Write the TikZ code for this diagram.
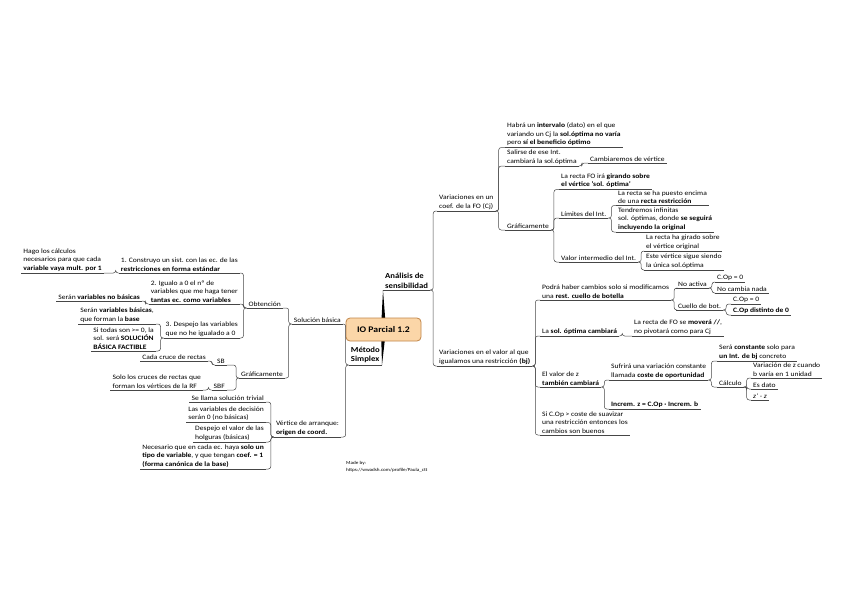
\documentclass[tikz,border=0pt]{standalone}
\usepackage{fontspec}
\setmainfont{Carlito}[FakeStretch = 1.13]
\usetikzlibrary{backgrounds}

\definecolor{rootfill}{RGB}{251,214,168}
\definecolor{rootdraw}{RGB}{192,132,72}
\definecolor{linegray}{RGB}{70,70,70}

\tikzset{
    uline/.style = {draw = linegray, line width = 0.5pt},
    topic/.style = {inner xsep = 2pt, inner ysep = 1.6pt, align = left,
        append after command = {(\tikzlastnode.south west) edge [uline] (\tikzlastnode.south east)}},
    rtopic/.style = {topic, anchor = south west},
    ltopic/.style = {topic, anchor = south east},
    rbranch/.style = {to path = {-- ++(3,0) |- (\tikztotarget)}},
    lbranch/.style = {to path = {-- ++(-3,0) |- (\tikztotarget)}}
}

\begin{document}
\begin{tikzpicture}[
        x = 1pt, y = -1pt,
        every node/.style = {font = \fontsize{6.7}{8.4}\selectfont},
        main/.style = {topic, font = \fontsize{7.7}{9.2}\selectfont\bfseries},
        branch/.style = {uline, rounded corners = 2.5pt}
    ]

    \useasboundingbox (0,0) rectangle (848,599);

    \node[draw = rootdraw, fill = rootfill, rounded corners = 4pt, line width = 0.8pt,
          minimum width = 75pt, minimum height = 23pt,
          font = \fontsize{8.6}{10}\selectfont\bfseries] (root) at (383.5,329.5) {IO Parcial 1.2};

    \node[main, anchor = south west] (ana) at (383,290) {Análisis de\\sensibilidad};
    \node[main, anchor = south east] (met) at (382,365) {Método\\Simplex};

    \begin{scope}[on background layer]
        \fill ([xshift = -2.5pt]root.center) -- (ana.south west) -- ([xshift = 2.5pt]root.center) -- cycle;
        \fill ([xshift = -2.5pt]root.center) -- (met.south east) -- ([xshift = 2.5pt]root.center) -- cycle;
    \end{scope}

    % right: coeficientes de la FO
    \node[rtopic] (cj)    at (437,211) {Variaciones en un\\coef. de la FO (Cj)};
    \node[rtopic] (hab)   at (505,147.5) {Habrá un \textbf{intervalo} (dato) en el que\\variando un Cj la \textbf{sol.óptima no varía}\\pero \textbf{sí el beneficio óptimo}};
    \node[rtopic] (sal)   at (505,166) {Salirse de ese Int.\\cambiará la sol.óptima};
    \node[rtopic] (camb)  at (588,163) {Cambiaremos de vértice};
    \node[rtopic] (gra)   at (505,230) {Gráficamente};
    \node[rtopic] (giro)  at (559,189.5) {La recta FO irá \textbf{girando sobre}\\\textbf{el vértice 'sol. óptima'}};
    \node[rtopic] (lim)   at (559,218) {Límites del Int.};
    \node[rtopic] (enc)   at (616,205.5) {La recta se ha puesto encima\\de una \textbf{recta restricción}};
    \node[rtopic] (inf)   at (616,232) {Tendremos infinitas\\sol. óptimas, donde \textbf{se seguirá}\\\textbf{incluyendo la original}};
    \node[rtopic] (val)   at (559,262) {Valor intermedio del Int.};
    \node[rtopic] (gir2)  at (644,251) {La recta ha girado sobre\\el vértice original};
    \node[rtopic] (uni)   at (644,270) {Este vértice sigue siendo\\la única sol.óptima};

    % right: recursos (bj)
    \node[rtopic] (bj)    at (437,366) {Variaciones en el valor al que\\igualamos una restricción \textbf{(bj)}};
    \node[rtopic] (pod)   at (540,300) {Podrá haber cambios solo si modificamos\\una \textbf{rest. cuello de botella}};
    \node[rtopic] (noact) at (676,288) {No activa};
    \node[rtopic] (cop1)  at (715,282) {C.Op = 0};
    \node[rtopic] (nada)  at (715,293) {No cambia nada};
    \node[rtopic] (cue)   at (676,310) {Cuello de bot.};
    \node[rtopic] (cop2)  at (731,304) {C.Op = 0};
    \node[rtopic] (cop3)  at (731,315) {\textbf{C.Op distinto de 0}};
    \node[rtopic] (sol)   at (540,336) {La \textbf{sol. óptima cambiará}};
    \node[rtopic] (fo)    at (632,336) {La recta de FO se \textbf{moverá //},\\no pivotará como para Cj};
    \node[rtopic] (zval)  at (540,387) {El valor de z\\\textbf{también cambiará}};
    \node[rtopic] (suf)   at (609,380) {Sufrirá una variación constante\\llamada \textbf{coste de oportunidad}};
    \node[rtopic] (cte)   at (717,361) {Será \textbf{constante} solo para\\\textbf{un Int. de bj} concreto};
    \node[rtopic] (calc)  at (717,387) {Cálculo};
    \node[rtopic] (var)   at (751,378) {Variación de z cuando\\b varía en 1 unidad};
    \node[rtopic] (dato)  at (751,389) {Es dato};
    \node[rtopic] (zz)    at (751,400) {\textit{z' - z}};
    \node[rtopic] (inc)   at (609,409) {\textbf{Increm. z = C.Op · Increm. b}};
    \node[rtopic] (sic)   at (540,435) {Si C.Op > coste de suavizar\\una restricción entonces los\\cambios son buenos};

    % left: metodo simplex
    \node[ltopic] (sb)    at (343,324) {Solución básica};
    \node[ltopic] (obt)   at (283,308) {Obtención};
    \node[ltopic] (c1)    at (240,273) {1. Construyo un sist. con las ec. de las\\\textbf{restricciones en forma estándar}};
    \node[ltopic] (hago)  at (104,273) {Hago los cálculos\\necesarios para que cada\\\textbf{variable vaya mult. por 1}};
    \node[ltopic] (c2)    at (240,304) {2. Igualo a 0 el nº de\\variables que me haga tener\\\textbf{tantas ec. como variables}};
    \node[ltopic] (nob)   at (142,301) {Serán \textbf{variables no básicas}};
    \node[ltopic] (c3)    at (240,338) {3. Despejo las variables\\que no he igualado a 0};
    \node[ltopic] (bas)   at (156,324) {Serán \textbf{variables básicas},\\que forman la \textbf{base}};
    \node[ltopic] (fact)  at (156,351) {Si todas son >= 0, la\\sol. será \textbf{SOLUCIÓN}\\\textbf{BÁSICA FACTIBLE}};
    \node[ltopic] (graf)  at (285,378) {Gráficamente};
    \node[ltopic] (sbn)   at (227,365) {SB};
    \node[ltopic] (cruce) at (208,361) {Cada cruce de rectas};
    \node[ltopic] (sbf)   at (227,390) {SBF};
    \node[ltopic] (solo)  at (203,390) {Solo los cruces de rectas que\\forman los vértices de la RF};
    \node[ltopic] (vert)  at (341,437) {Vértice de arranque:\\\textbf{origen de coord.}};
    \node[ltopic] (triv)  at (266,402) {Se llama solución trivial};
    \node[ltopic] (dec)   at (266,422.5) {Las variables de decisión\\serán 0 (no básicas)};
    \node[ltopic] (hol)   at (266,442) {Despejo el valor de las\\holguras (básicas)};
    \node[ltopic] (nec)   at (266,469) {Necesario que en cada ec. haya \textbf{solo un}\\\textbf{tipo de variable}, y que tengan \textbf{coef. = 1}\\\textbf{(forma canónica de la base)}};

    \node[anchor = north west, align = left, inner sep = 0pt,
          font = \fontsize{4.6}{7}\selectfont] (credit) at (346,461) {Made by:\\https://wwadsh.com/profile/Paula\_ctt};

    \path[branch]
        (ana.south east)  edge [rbranch] (cj.south west)
        (ana.south east)  edge [rbranch] (bj.south west)
        (cj.south east)   edge [rbranch] (hab.south west)
        (cj.south east)   edge [rbranch] (sal.south west)
        (cj.south east)   edge [rbranch] (gra.south west)
        (sal.south east)  edge [rbranch] (camb.south west)
        (gra.south east)  edge [rbranch] (giro.south west)
        (gra.south east)  edge [rbranch] (lim.south west)
        (gra.south east)  edge [rbranch] (val.south west)
        (lim.south east)  edge [rbranch] (enc.south west)
        (lim.south east)  edge [rbranch] (inf.south west)
        (val.south east)  edge [rbranch] (gir2.south west)
        (val.south east)  edge [rbranch] (uni.south west)
        (bj.south east)   edge [rbranch] (pod.south west)
        (bj.south east)   edge [rbranch] (sol.south west)
        (bj.south east)   edge [rbranch] (zval.south west)
        (bj.south east)   edge [rbranch] (sic.south west)
        (pod.south east)  edge [rbranch] (noact.south west)
        (pod.south east)  edge [rbranch] (cue.south west)
        (noact.south east) edge [rbranch] (cop1.south west)
        (noact.south east) edge [rbranch] (nada.south west)
        (cue.south east)  edge [rbranch] (cop2.south west)
        (cue.south east)  edge [rbranch] (cop3.south west)
        (sol.south east)  edge [rbranch] (fo.south west)
        (zval.south east) edge [rbranch] (suf.south west)
        (zval.south east) edge [rbranch] (inc.south west)
        (suf.south east)  edge [rbranch] (cte.south west)
        (suf.south east)  edge [rbranch] (calc.south west)
        (calc.south east) edge [rbranch] (var.south west)
        (calc.south east) edge [rbranch] (dato.south west)
        (calc.south east) edge [rbranch] (zz.south west);

    \path[branch]
        (met.south west)  edge [lbranch] (sb.south east)
        (met.south west)  edge [lbranch] (vert.south east)
        (sb.south west)   edge [lbranch] (obt.south east)
        (sb.south west)   edge [lbranch] (graf.south east)
        (obt.south west)  edge [lbranch] (c1.south east)
        (obt.south west)  edge [lbranch] (c2.south east)
        (obt.south west)  edge [lbranch] (c3.south east)
        (c1.south west)   edge [lbranch] (hago.south east)
        (c2.south west)   edge [lbranch] (nob.south east)
        (c3.south west)   edge [lbranch] (bas.south east)
        (c3.south west)   edge [lbranch] (fact.south east)
        (graf.south west) edge [lbranch] (sbn.south east)
        (graf.south west) edge [lbranch] (sbf.south east)
        (sbn.south west)  edge [lbranch] (cruce.south east)
        (sbf.south west)  edge [lbranch] (solo.south east)
        (vert.south west) edge [lbranch] (triv.south east)
        (vert.south west) edge [lbranch] (dec.south east)
        (vert.south west) edge [lbranch] (hol.south east)
        (vert.south west) edge [lbranch] (nec.south east);

\end{tikzpicture}
\end{document}
